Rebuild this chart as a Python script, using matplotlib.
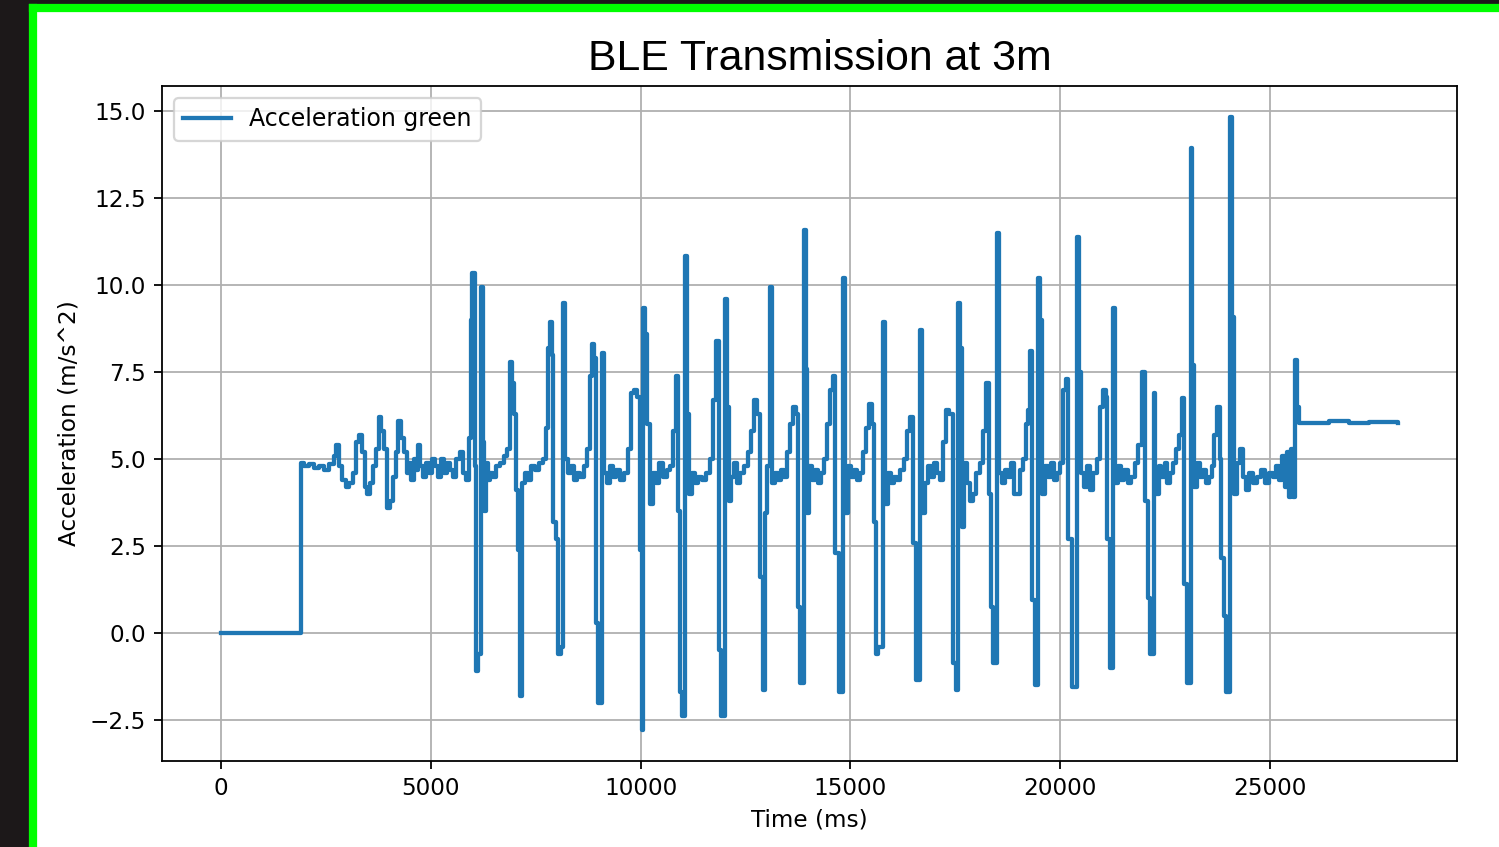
#!/usr/bin/env python
# -*- coding: utf-8 -*-

"""Acceleration recorded over BLE at 3m, drawn as a step line."""

import matplotlib
matplotlib.use('Agg')
import matplotlib.pyplot as plt
from matplotlib.patches import Rectangle

# time stamps (ms) where the sampled value changes
time_ms = [
    0, 1903, 1975, 2094, 2212, 2331, 2450, 2569, 2688, 2736, 2807, 2879, 2974,
    3045, 3140, 3212, 3283, 3354, 3426, 3473, 3545, 3616, 3687, 3759, 3806,
    3878, 3949, 4021, 4092, 4163, 4211, 4282, 4354, 4425, 4473, 4520, 4591,
    4639, 4687, 4734, 4806, 4877, 4948, 5020, 5091, 5162, 5234, 5305, 5377,
    5448, 5519, 5591, 5686, 5757, 5829, 5900,
    5948, 5995, 6043, 6090, 6138, 6209, 6257, 6281, 6328, 6376, 6423, 6495,
    6566, 6661, 6756, 6828, 6899, 6947, 6994, 7042, 7089, 7137, 7185, 7256,
    7327, 7399, 7494, 7589, 7684, 7756, 7803, 7851, 7898, 7922, 7993, 8041,
    8112, 8160, 8208, 8279, 8350, 8422, 8493, 8564, 8660, 8731, 8802, 8850,
    8897, 8945, 8993, 9088, 9135, 9207, 9278, 9349, 9421, 9516, 9611, 9706,
    9778, 9849, 9920, 9992, 10039, 10063, 10111, 10158, 10230, 10301, 10372,
    10444, 10539, 10634, 10706, 10777, 10848, 10896, 10943, 10991, 11062,
    11110, 11158, 11229, 11300, 11372, 11467, 11562, 11657, 11728, 11800,
    11871, 11919, 12014, 12062, 12109,
    12157, 12228, 12299, 12371, 12466, 12561, 12632, 12704, 12775, 12847,
    12918, 12966, 13013, 13085, 13132, 13203, 13275, 13346, 13418, 13489,
    13560, 13632, 13703, 13751, 13798, 13893, 13941, 13965, 14012, 14084,
    14155, 14226, 14298, 14369, 14441, 14512, 14583, 14631, 14726, 14821,
    14869, 14940, 15011, 15083, 15154, 15226, 15297, 15368, 15440, 15511,
    15559, 15606, 15654, 15773, 15820, 15892, 15963, 16034, 16106, 16177,
    16272, 16344, 16415, 16486, 16558, 16653, 16701, 16772, 16843, 16915,
    16986, 17057, 17129, 17200, 17272, 17343, 17438, 17509, 17557, 17605,
    17652,
    17700, 17771, 17843, 17914, 17985, 18080, 18152, 18223, 18295, 18342,
    18390, 18485, 18532, 18604, 18675, 18747, 18818, 18889, 18961, 19032,
    19103, 19175, 19222, 19270, 19317, 19389, 19460, 19508, 19555, 19627,
    19698, 19769, 19841, 19912, 19984, 20055, 20126, 20174, 20269, 20388,
    20436, 20483, 20555, 20626, 20697, 20769, 20864, 20935, 21007, 21078,
    21102, 21173, 21244, 21292, 21363, 21435, 21506, 21601, 21673, 21768,
    21839, 21934, 22006, 22077, 22125, 22220, 22267, 22339, 22410, 22482,
    22553, 22624, 22696, 22767, 22838, 22910, 22957, 23029, 23124, 23148,
    23195, 23267, 23338, 23409, 23481, 23552, 23623, 23671, 23742, 23814,
    23838, 23909, 23957, 24052, 24099, 24147, 24218, 24290, 24361, 24432,
    24504, 24599, 24694, 24789, 24884, 24980, 25075, 25146, 25217, 25289,
    25360, 25408, 25455, 25503, 25550, 25598, 25646, 25693, 26407, 26883,
    27359, 28048,
]

# acceleration (m/s^2) held from each time stamp
accel_green = [
    0.0, 4.9, 4.8, 4.85, 4.75, 4.8, 4.7, 4.85, 5.1, 5.4, 4.8, 4.4, 4.2,
    4.3, 4.6, 5.5, 5.7, 5.2, 4.2, 4.0, 4.3, 4.8, 5.3, 6.2, 5.8,
    5.3, 3.6, 3.8, 4.5, 5.2, 6.1, 5.6, 5.2, 4.6, 4.9, 4.4, 5.0,
    4.7, 5.4, 4.8, 4.5, 4.9, 4.6, 5.0, 4.8, 4.5, 5.0, 4.6, 4.9,
    4.7, 4.5, 5.0, 5.2, 4.6, 4.4, 5.6,
    9.0, 10.35, 4.8, -1.1, -0.6, 9.95, 5.5, 3.5, 4.9, 4.4, 4.6, 4.5,
    4.8, 4.9, 5.1, 5.3, 7.8, 7.2, 6.3, 4.1, 2.4, -1.8, 4.3, 4.6,
    4.4, 4.8, 4.7, 4.9, 5.0, 5.9, 8.2, 8.95, 8.0, 3.2, 2.7, -0.6,
    -0.4, 9.5, 5.0, 4.6, 4.8, 4.4, 4.6, 4.5, 4.8, 5.3, 7.4, 8.3,
    7.9, 0.3, -2.0, 8.05, 4.6, 4.3, 4.8, 4.5, 4.7, 4.4, 4.6, 5.3,
    6.9, 7.0, 6.8, 2.4, -2.8, 9.35, 8.6, 6.0, 3.7, 4.6, 4.3,
    4.9, 4.5, 4.7, 4.8, 5.8, 7.4, 3.5, -1.7, -2.4, 10.85,
    6.3, 4.0, 4.6, 4.3, 4.5, 4.4, 4.6, 5.0, 6.7, 8.4,
    -0.5, -2.4, 9.6, 6.5, 3.8,
    4.5, 4.9, 4.3, 4.6, 4.8, 5.2, 5.8, 6.7, 6.3, 1.6,
    -1.65, 3.45, 4.8, 9.95, 4.3, 4.6, 4.4, 4.7, 4.5, 5.2,
    6.0, 6.5, 6.3, 0.75, -1.45, 11.6, 7.6, 3.45, 4.8, 4.4,
    4.7, 4.3, 4.6, 5.0, 6.0, 7.0, 7.4, 2.3, -1.7, 10.2,
    3.45, 4.8, 4.5, 4.7, 4.4, 4.6, 5.2, 5.9, 6.6, 6.0,
    3.2, -0.6, -0.4, 8.95, 3.7, 4.6, 4.3, 4.5, 4.4, 4.7,
    5.0, 5.8, 6.2, 2.6, -1.35, 8.7, 3.45, 4.3, 4.8, 4.5,
    4.9, 4.6, 4.4, 5.5, 6.4, 6.3, -0.85, -1.65, 9.5, 8.2,
    3.05,
    4.9, 4.3, 3.8, 4.0, 4.6, 4.9, 5.8, 7.2, 4.0, 0.75,
    -0.85, 11.5, 4.6, 4.3, 4.7, 4.5, 4.9, 4.0, 4.0, 4.7,
    5.0, 6.0, 6.4, 8.1, 0.95, -1.5, 10.2, 9.0, 4.0, 4.8,
    4.5, 4.9, 4.4, 4.6, 4.9, 7.0, 7.3, 2.7, -1.55, 11.4,
    7.5, 4.6, 4.2, 4.8, 4.1, 4.6, 5.0, 6.5, 7.0, 6.8,
    2.7, -1.0, 9.35, 4.3, 4.8, 4.4, 4.7, 4.3, 4.5, 4.9,
    5.4, 7.5, 3.8, 1.0, -0.6, 6.9, 4.0, 4.8, 4.5, 4.9,
    4.3, 4.6, 4.9, 5.3, 5.7, 6.75, 1.4, -1.45, 13.95, 7.7,
    4.2, 4.9, 4.5, 4.7, 4.3, 4.5, 4.8, 5.7, 6.5, 5.0,
    2.15, 0.5, -1.7, 14.85, 9.1, 4.0, 4.9, 5.3, 4.5, 4.1,
    4.6, 4.3, 4.5, 4.7, 4.3, 4.6, 4.5, 4.8, 4.4, 5.1,
    4.2, 5.2, 3.9, 5.3, 3.9, 7.85, 6.5, 6.05, 6.1, 6.05,
    6.08, 6.05,
]

# figure sized like the screenshot (1499 x 847 px)
fig = plt.figure(figsize=(1499 / 162, 847 / 162), dpi=162)

# dark frame and green border around the slide
dark = '#1c1819'
green = '#00ff00'
fig.patches.append(Rectangle((0, 0), 30 / 1499, 1, color=dark,
                             transform=fig.transFigure, zorder=-1))
fig.patches.append(Rectangle((0, 1 - 5 / 847), 1, 5 / 847, color=dark,
                             transform=fig.transFigure, zorder=-1))
fig.patches.append(Rectangle((30 / 1499, 0), 6 / 1499, 1 - 5 / 847, color=green,
                             transform=fig.transFigure, zorder=-1))
fig.patches.append(Rectangle((30 / 1499, 1 - 11 / 847), 1, 6 / 847, color=green,
                             transform=fig.transFigure, zorder=-1))

ax = fig.add_axes([162 / 1499, 1 - 761 / 847, 1295 / 1499, 675 / 847])
ax.plot(time_ms, accel_green, drawstyle='steps-post', lw=1.9,
        label='Acceleration green')

ax.set_xlabel('Time (ms)', fontsize=10.3)
ax.set_ylabel('Acceleration (m/s^2)', fontsize=10.3)
ax.tick_params(labelsize=10.3)
ax.grid(True)
ax.legend(loc='upper left', fontsize=10.5)

fig.text(820 / 1499, 1 - 70 / 847, 'BLE Transmission at 3m', ha='center',
         va='baseline', fontsize=19, family='Liberation Sans')

fig.savefig('out.png', dpi=162)
